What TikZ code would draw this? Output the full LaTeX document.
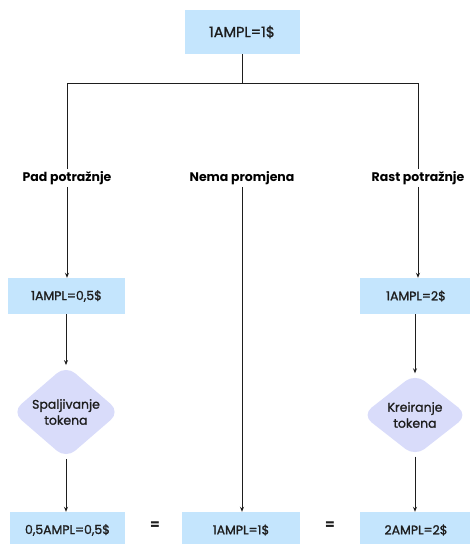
\documentclass[tikz,border=0pt]{standalone}
\usepackage{fontspec}
\setmainfont{Poppins}
\newfontfamily\medfont{Poppins}[FakeBold=1.3]
\usetikzlibrary{shapes.geometric,arrows.meta}
\definecolor{boxblue}{HTML}{C4E5FD}
\definecolor{lav}{HTML}{D9DCFA}
\definecolor{ink}{HTML}{1E1E1E}
\tikzset{
  valbox/.style={fill=boxblue, draw=none, minimum height=36pt, inner sep=0pt, font=\medfont\fontsize{12.5}{14}\selectfont, text=ink},
  decide/.style={diamond, fill=lav, draw=none, rounded corners=12pt, minimum width=108pt, minimum height=81pt, inner sep=0pt, align=center, font=\medfont\fontsize{12.5}{16}\selectfont, text=ink},
  lab/.style={font=\bfseries\fontsize{12.5}{14}\selectfont, text=black, inner sep=2pt},
  conn/.style={draw=ink, line width=0.8pt},
  arr/.style={conn, -{Stealth[length=5pt,width=4pt]}},
  eq/.style={font=\bfseries\fontsize{14}{14}\selectfont, text=ink}
}
\begin{document}
\begin{tikzpicture}[x=1pt,y=-1pt]
\useasboundingbox (0,0) rectangle (470,544);
\node[valbox, minimum width=115pt, minimum height=44pt, font=\medfont\fontsize{14.5}{16}\selectfont] (top) at (242,32) {1AMPL=1\$};
\coordinate (j) at (242,83);
\coordinate (jl) at (67,83);
\coordinate (jr) at (418,83);
\node[lab] (pad) at (67,178) {Pad potražnje};
\node[lab] (nema) at (242,178) {Nema promjena};
\node[lab] (rast) at (418,178) {Rast potražnje};
\node[valbox, minimum width=117pt] (lb) at (66.5,296) {1AMPL=0,5\$};
\node[valbox, minimum width=112pt] (rb) at (416,296) {1AMPL=2\$};
\node[decide] (ld) at (66,412) {Spaljivanje\\tokena};
\node[decide, minimum width=106pt, minimum height=83pt] (rd) at (415,415) {Kreiranje\\tokena};
\node[valbox, minimum width=115pt] (lo) at (67.5,530) {0,5AMPL=0,5\$};
\node[valbox, minimum width=118pt] (mo) at (241,530) {1AMPL=1\$};
\node[valbox, minimum width=112pt] (ro) at (416,530) {2AMPL=2\$};
\node[eq] (e1) at (155,526) {=};
\node[eq] (e2) at (330,526) {=};
\draw[conn] (top.south) -- (j);
\draw[conn] (jl) -- (jr);
\draw[conn] (jl) -- (pad.north);
\draw[conn] (jr) -- (rast.north -| jr);
\draw[arr] (pad.south) -- (pad.south |- lb.north);
\draw[arr] (rast.south -| jr) -- (jr |- rb.north);
\draw[arr] (lb.south -| ld.north) -- (ld.north);
\draw[arr] (rb.south -| rd.north) -- (rd.north);
\draw[arr] (ld.south) -- (ld.south |- lo.north);
\draw[arr] (rd.south) -- (rd.south |- ro.north);
\draw[arr] (nema.south) -- (nema.south |- mo.north);
\end{tikzpicture}
\end{document}
